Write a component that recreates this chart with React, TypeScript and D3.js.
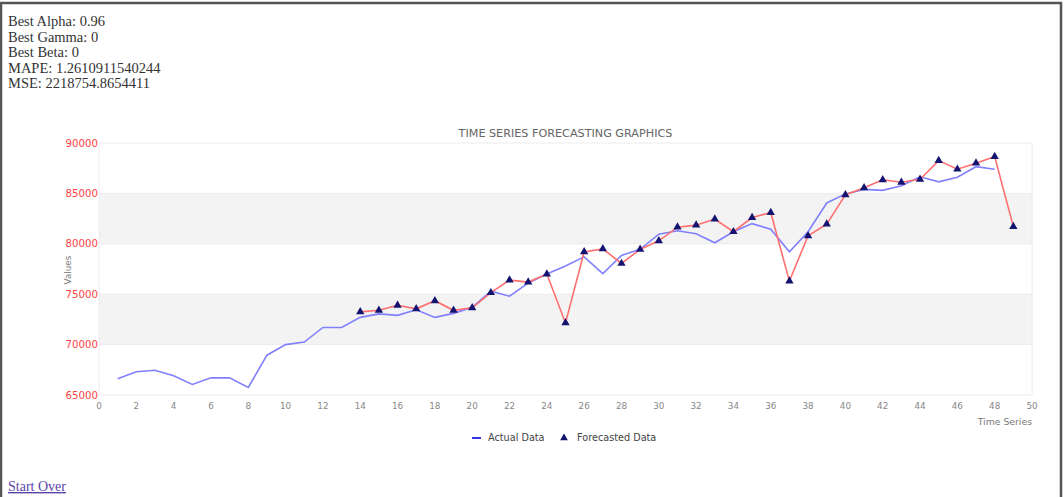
import React, { useEffect, useRef } from 'react'
import * as d3 from 'd3'

const statLines = [
  'Best Alpha: 0.96',
  'Best Gamma: 0',
  'Best Beta: 0',
  'MAPE: 1.2610911540244',
  'MSE: 2218754.8654411',
]

const actualX = d3.range(1, 49)
const actualY = [
  66600, 67300, 67450, 66900, 66050, 66700, 66700, 65750, 68950, 70000,
  70250, 71700, 71700, 72700, 73050, 72900, 73450, 72700, 73100, 73700,
  75300, 74800, 76100, 77000, 77800, 78700, 77050, 78850, 79450, 80950,
  81300, 81000, 80100, 81200, 82000, 81450, 79200, 81200, 84050, 84950,
  85400, 85300, 85750, 86650, 86150, 86600, 87650, 87400,
]

const forecastX = d3.range(14, 50)
const forecastY = [
  73250, 73400, 73900, 73550, 74350, 73400, 73650, 75150, 76400, 76200,
  77000, 72150, 79200, 79500, 78050, 79450, 80300, 81650, 81850, 82450,
  81200, 82600, 83100, 76300, 80800, 81950, 84850, 85550, 86350, 86100,
  86400, 88250, 87400, 88000, 88650, 81700,
]

const yTicks = [65000, 70000, 75000, 80000, 85000, 90000]
const xTicks = d3.range(0, 51, 2)

const App: React.FC = () => {
  const ref = useRef<SVGSVGElement>(null)

  useEffect(() => {
    if (!ref.current) return
    const svg = d3.select(ref.current)
    svg.selectAll('*').remove()

    const width = 1064
    const height = 497
    const left = 99
    const right = 1032
    const top = 143
    const bottom = 395
    const sans = '"DejaVu Sans", Verdana, sans-serif'
    const serif = '"Liberation Serif", "Times New Roman", serif'

    // page frame
    svg.append('path')
      .attr('d', `M1,${height} V3 H1061 V${height}`)
      .attr('fill', 'none')
      .attr('stroke', '#555')
      .attr('stroke-width', 2.5)

    // stats text
    svg.append('g')
      .selectAll('text')
      .data(statLines)
      .enter()
      .append('text')
      .attr('x', 8)
      .attr('y', (d, i) => 26 + i * 15.5)
      .attr('font-family', serif)
      .attr('font-size', 14.5)
      .attr('fill', '#333')
      .text(d => d)

    const x = d3.scaleLinear().domain([0, 50]).range([left, right])
    const y = d3.scaleLinear().domain([65000, 90000]).range([bottom, top])

    // alternating bands
    const bands = [[70000, 75000], [80000, 85000]]
    svg.append('g')
      .selectAll('rect')
      .data(bands)
      .enter()
      .append('rect')
      .attr('x', left)
      .attr('y', d => y(d[1]))
      .attr('width', right - left)
      .attr('height', d => y(d[0]) - y(d[1]))
      .attr('fill', '#f3f3f3')

    // grid lines
    svg.append('g')
      .selectAll('line')
      .data(yTicks)
      .enter()
      .append('line')
      .attr('x1', left)
      .attr('x2', right)
      .attr('y1', d => y(d))
      .attr('y2', d => y(d))
      .attr('stroke', '#ececec')
      .attr('stroke-width', 1)

    svg.append('line')
      .attr('x1', right).attr('x2', right)
      .attr('y1', top).attr('y2', bottom)
      .attr('stroke', '#ececec')
    svg.append('line')
      .attr('x1', left).attr('x2', left)
      .attr('y1', top).attr('y2', bottom)
      .attr('stroke', '#ececec')

    // y tick labels
    svg.append('g')
      .selectAll('text')
      .data(yTicks)
      .enter()
      .append('text')
      .attr('x', left - 1)
      .attr('y', d => y(d) + 3.5)
      .attr('text-anchor', 'end')
      .attr('font-family', sans)
      .attr('font-size', 10.2)
      .attr('fill', '#ff4444')
      .text(d => d)

    // x tick labels
    svg.append('g')
      .selectAll('text')
      .data(xTicks)
      .enter()
      .append('text')
      .attr('x', d => x(d))
      .attr('y', 409)
      .attr('text-anchor', 'middle')
      .attr('font-family', sans)
      .attr('font-size', 8.8)
      .attr('fill', '#888')
      .text(d => d)

    // title + axis titles
    svg.append('text')
      .attr('x', (left + right) / 2)
      .attr('y', 137)
      .attr('text-anchor', 'middle')
      .attr('font-family', sans)
      .attr('font-size', 11.2)
      .attr('fill', '#666')
      .text('TIME SERIES FORECASTING GRAPHICS')

    svg.append('text')
      .attr('transform', `translate(71, 270) rotate(-90)`)
      .attr('text-anchor', 'middle')
      .attr('font-family', sans)
      .attr('font-size', 8.8)
      .attr('fill', '#777')
      .text('Values')

    svg.append('text')
      .attr('x', right)
      .attr('y', 425)
      .attr('text-anchor', 'end')
      .attr('font-family', sans)
      .attr('font-size', 9.3)
      .attr('fill', '#777')
      .text('Time Series')

    const line = d3.line<[number, number]>()
      .x(d => x(d[0]))
      .y(d => y(d[1]))

    const actual: [number, number][] = actualX.map((v, i) => [v, actualY[i]])
    const forecast: [number, number][] = forecastX.map((v, i) => [v, forecastY[i]])

    svg.append('path')
      .attr('d', line(actual))
      .attr('fill', 'none')
      .attr('stroke', '#8080ff')
      .attr('stroke-width', 1.6)

    svg.append('path')
      .attr('d', line(forecast))
      .attr('fill', 'none')
      .attr('stroke', '#ff6f6f')
      .attr('stroke-width', 1.6)

    const tri = d3.symbol().type(d3.symbolTriangle).size(30)
    svg.append('g')
      .selectAll('path')
      .data(forecast)
      .enter()
      .append('path')
      .attr('d', tri)
      .attr('transform', d => `translate(${x(d[0])},${y(d[1])})`)
      .attr('fill', '#141470')

    // legend
    const lg = svg.append('g').attr('transform', 'translate(0, 438)')
    lg.append('line')
      .attr('x1', 472).attr('x2', 481)
      .attr('y1', 0).attr('y2', 0)
      .attr('stroke', '#3333ee')
      .attr('stroke-width', 2)
    lg.append('text')
      .attr('x', 488).attr('y', 3)
      .attr('font-family', sans)
      .attr('font-size', 9.7)
      .attr('fill', '#444')
      .text('Actual Data')
    lg.append('path')
      .attr('d', d3.symbol().type(d3.symbolTriangle).size(26)())
      .attr('transform', 'translate(564, 0)')
      .attr('fill', '#141470')
    lg.append('text')
      .attr('x', 577).attr('y', 3)
      .attr('font-family', sans)
      .attr('font-size', 9.7)
      .attr('fill', '#444')
      .text('Forecasted Data')

    // link
    svg.append('text')
      .attr('x', 8)
      .attr('y', 491)
      .attr('font-family', serif)
      .attr('font-size', 14)
      .attr('fill', '#5b45a8')
      .attr('text-decoration', 'underline')
      .text('Start Over')

    svg.attr('width', width).attr('height', height)
  }, [])

  return (
    <svg
      ref={ref}
      width={1064}
      height={497}
      style={{ position: 'absolute', left: 0, top: 0, background: '#fff' }}
    />
  )
}

export default App
